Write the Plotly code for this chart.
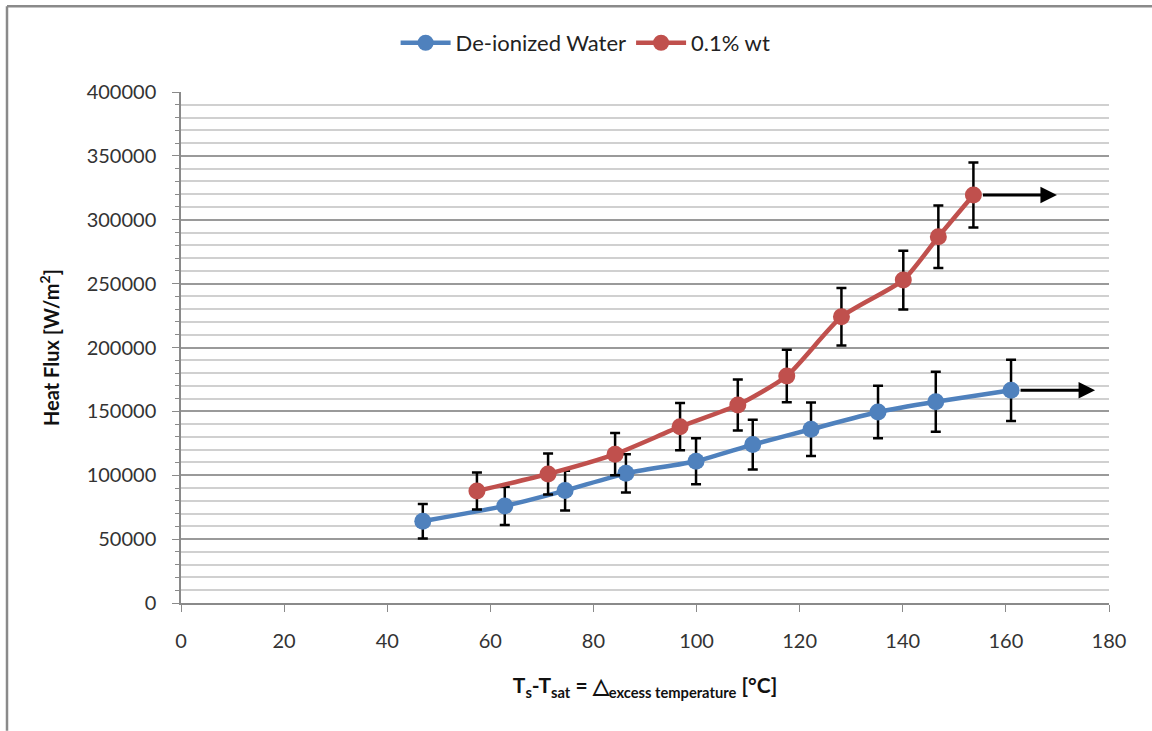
import plotly.graph_objects as go

# Data
water_x = [46.9, 62.8, 74.5, 86.3, 99.9, 110.9, 122.2, 135.2, 146.4, 161.0]
water_y = [64000, 76000, 88000, 101500, 111000, 124000, 136000, 149500, 157500, 166500]
water_err = [13500, 15000, 15500, 15000, 18000, 19500, 21000, 20500, 23500, 24000]

np_x = [57.4, 71.2, 84.2, 96.8, 108.0, 117.5, 128.1, 140.1, 146.9, 153.7]
np_y = [87700, 101000, 116500, 138000, 155000, 177700, 224000, 252800, 286700, 319400]
np_err = [14500, 16000, 16500, 18500, 20000, 20500, 22500, 23000, 24500, 25500]

arrow_tips = {"water": 177.3, "np": 169.9}

x_ticks = [0, 20, 40, 60, 80, 100, 120, 140, 160, 180]
y_ticks = [0, 50000, 100000, 150000, 200000, 250000, 300000, 350000, 400000]

BLUE = "#4F81BD"
RED = "#C0504D"
FONT = "Lato"

fig = go.Figure()
fig.add_trace(go.Scatter(
    x=water_x, y=water_y, name="De-ionized Water", mode="lines+markers",
    line=dict(color=BLUE, width=4.5, shape="spline", smoothing=0.6),
    marker=dict(color=BLUE, size=17),
    error_y=dict(type="data", array=water_err, color="black", thickness=2.5, width=5),
))
fig.add_trace(go.Scatter(
    x=np_x, y=np_y, name="0.1% wt", mode="lines+markers",
    line=dict(color=RED, width=4.5, shape="spline", smoothing=0.6),
    marker=dict(color=RED, size=17),
    error_y=dict(type="data", array=np_err, color="black", thickness=2.5, width=5),
))

for xs, ys, key in [(water_x, water_y, "water"), (np_x, np_y, "np")]:
    fig.add_annotation(
        x=arrow_tips[key], y=ys[-1], ax=xs[-1], ay=ys[-1],
        xref="x", yref="y", axref="x", ayref="y",
        showarrow=True, arrowhead=2, arrowsize=1.1, arrowwidth=3,
        arrowcolor="black", text="", standoff=0, startstandoff=8,
    )

# chart border (left and top)
fig.add_shape(type="line", xref="paper", yref="paper",
              x0=-0.1875, x1=-0.1875, y0=-0.25, y1=1.168,
              line=dict(color="#8a8a8a", width=2.5))
fig.add_shape(type="line", xref="paper", yref="paper",
              x0=-0.1875, x1=1.06, y0=1.168, y1=1.168,
              line=dict(color="#8a8a8a", width=2.5))

fig.update_layout(
    width=1152, height=731,
    margin=dict(l=181, r=43, t=92, b=128),
    paper_bgcolor="white", plot_bgcolor="white",
    font=dict(family=FONT, size=20, color="#333333"),
    showlegend=True,
    legend=dict(orientation="h", x=0.436, xanchor="center", y=1.096, yanchor="middle",
                font=dict(size=22, color="#222222"), itemwidth=50),
    xaxis=dict(
        range=[0, 180], tickvals=x_ticks, ticktext=[str(v) for v in x_ticks],
        showgrid=False, zeroline=False,
        showline=True, linecolor="#8a8a8a", linewidth=1.5,
        ticks="outside", ticklen=7, tickcolor="#8a8a8a",
        tickfont=dict(size=20, color="#333333"), ticklabelstandoff=12,
        title=dict(text="<b>T<sub>s</sub>-T<sub>sat</sub> = △<sub>excess temperature</sub> [°C]</b>",
                   font=dict(size=21, color="#111111"), standoff=28),
    ),
    yaxis=dict(
        range=[0, 400000], tickvals=y_ticks, ticktext=[str(v) for v in y_ticks],
        showgrid=True, gridcolor="#9a9a9a", gridwidth=1.5,
        zeroline=False,
        showline=True, linecolor="#8a8a8a", linewidth=1.5,
        ticks="outside", ticklen=7, tickcolor="#8a8a8a",
        tickfont=dict(size=20, color="#333333"), ticklabelstandoff=12,
        minor=dict(dtick=10000, showgrid=True, gridcolor="#d0d0d0", gridwidth=1.5,
                   ticks="outside", ticklen=4, tickcolor="#8a8a8a"),
        title=dict(text="<b>Heat Flux [W/m<sup>2</sup>]</b>",
                   font=dict(size=20, color="#111111"), standoff=22),
    ),
)

fig.write_html("out.html")
